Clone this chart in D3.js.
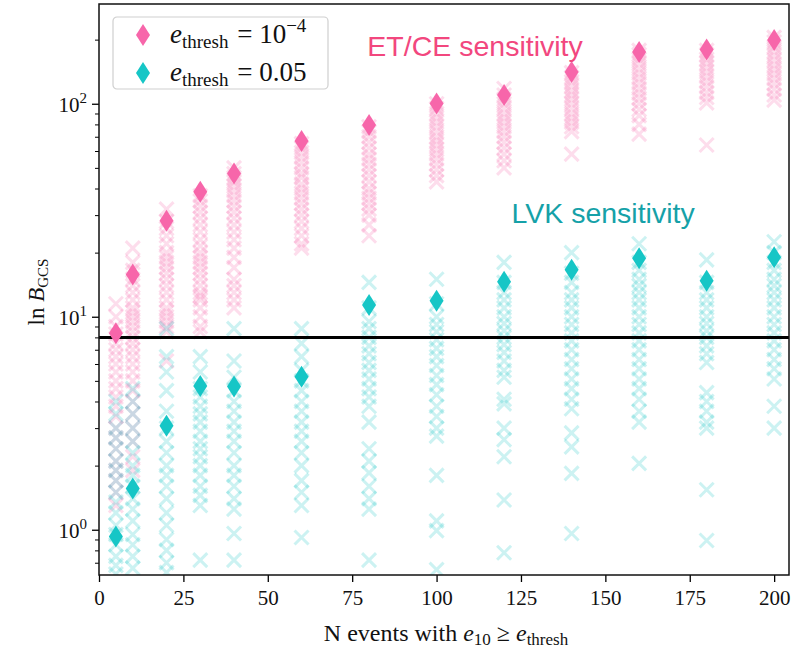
<!DOCTYPE html>
<html>
<head>
<meta charset="utf-8">
<script src="https://cdn.jsdelivr.net/npm/d3@7"></script>
<style>
  body { margin: 0; background: #fff; }
  svg { display: block; }
</style>
</head>
<body>
<div id="chart"></div>
<script>
// N events with e10 >= e_thresh
const nEvents = [5, 10, 20, 30, 40, 60, 80, 100, 120, 140, 160, 180, 200];

// diamonds: ln B_GCS, e_thresh = 1e-4 (ET/CE) and e_thresh = 0.05 (LVK)
const headlineET = [8.36, 15.8, 28.2, 38.6, 47.1, 66.8, 79.4, 100.4, 110, 141, 175, 180, 199];
const headlineLVK = [0.93, 1.56, 3.08, 4.73, 4.7, 5.23, 11.35, 11.9, 14.6, 16.6, 18.8, 14.75, 19.0];

// faint crosses: individual realisations per column
const runsET = [
  [11.5, 10, 9, 8.3, 7.5, 7, 6.5, 6, 5.5, 5, 4.6, 4.2, 3.8, 3.4, 3, 2.7, 2.4, 2.1, 1.9, 1.7, 1.5, 1.3],
  [21, 18, 16.5, 15, 14, 13, 12, 11, 10.5, 10, 9.5, 9, 8.5, 8, 7.5, 7, 6.5, 6, 5.5, 5, 4.5, 4, 3.5, 3, 2.6, 2.2, 1.9],
  [32, 28, 26, 24, 22, 20, 19, 18, 17, 16, 15, 14, 13, 12, 11, 10.5, 10, 9.5, 9, 8.5, 6.2],
  [37, 35, 33, 31, 29, 27, 25, 23, 21.5, 20, 19, 18, 17, 16, 15, 14, 13, 12.5, 12, 11, 10, 9, 8.5],
  [50, 47, 45, 43, 41, 39, 37, 35, 33, 31, 29, 27, 25, 23, 21, 19, 17, 15, 14, 13, 12, 11],
  [65, 62, 59, 56, 53, 50, 47, 45, 42, 40, 38, 36, 34, 32, 30, 28, 26, 24, 22, 21],
  [78, 74, 70, 66, 62, 58, 55, 52, 49, 46, 43, 40, 38, 36, 34, 32, 30, 27, 24],
  [100, 95, 90, 86, 82, 78, 74, 70, 67, 64, 61, 58, 55, 52, 49, 46, 43],
  [118, 110, 105, 100, 95, 90, 86, 82, 78, 74, 70, 66, 62, 58, 54, 50],
  [140, 133, 127, 121, 115, 110, 105, 100, 95, 90, 86, 82, 78, 74, 58],
  [178, 170, 162, 154, 146, 139, 132, 125, 118, 112, 106, 100, 94, 88, 80, 72],
  [178, 170, 162, 155, 148, 141, 134, 127, 120, 113, 107, 101, 64],
  [205, 195, 185, 176, 168, 160, 152, 145, 138, 131, 124, 117, 110, 104]
];
const runsLVK = [
  [4, 3.5, 3, 2.7, 2.4, 2.1, 1.9, 1.7, 1.5, 1.35, 1.2, 1.05, 0.95, 0.85, 0.75, 0.68, 0.62],
  [4.6, 4, 3.5, 3, 2.6, 2.3, 2.0, 1.8, 1.6, 1.4, 1.25, 1.1, 0.95, 0.85, 0.75, 0.66],
  [8.8, 6.5, 5.5, 4.5, 3.6, 3.0, 2.6, 2.3, 2.0, 1.8, 1.6, 1.4, 1.2, 1.05, 0.9, 0.8, 0.7, 0.63],
  [6.5, 5.5, 4.6, 4.2, 3.8, 3.5, 3.2, 2.9, 2.6, 2.4, 2.2, 2.0, 1.8, 1.6, 1.45, 1.3, 0.72],
  [8.8, 6.2, 5.2, 4.5, 4.0, 3.6, 3.2, 2.9, 2.6, 2.3, 2.0, 1.8, 1.6, 1.4, 1.25, 0.96, 0.72],
  [8.8, 7.5, 6.5, 5.6, 5.0, 4.5, 4.0, 3.6, 3.2, 2.9, 2.6, 2.3, 2.0, 1.7, 1.5, 1.3, 0.92],
  [14.5, 11, 9.5, 8.8, 8, 7.3, 6.7, 6.1, 5.6, 5.1, 4.6, 4.2, 3.8, 3.2, 2.4, 2.1, 1.85, 1.6, 1.4, 1.25, 0.72],
  [15, 11.5, 10, 9.2, 8.5, 7.8, 7.1, 6.5, 5.9, 5.3, 4.8, 4.3, 3.8, 3.4, 3.0, 2.75, 1.8, 1.1, 0.99, 0.65],
  [18, 14.5, 13, 12, 11, 10, 9.3, 8.6, 8, 7.4, 6.8, 6.2, 5.6, 5.2, 4.1, 3.9, 3.0, 2.65, 2.2, 1.38, 0.78],
  [20, 16, 14.5, 13, 12, 11, 10, 9.2, 8.4, 7.7, 7, 6.3, 5.7, 5.1, 4.6, 4.1, 3.7, 2.85, 2.45, 1.84, 0.96],
  [22, 18, 16.5, 15, 14, 13, 12, 11, 10, 9.2, 8.4, 7.7, 7, 6.3, 5.7, 5.1, 4.6, 4.1, 3.6, 3.2, 2.05],
  [18.5, 14.5, 13, 12, 11, 10, 9.3, 8.6, 8, 7.3, 6.7, 6.1, 4.4, 4.0, 3.6, 3.2, 3.0, 1.54, 0.89],
  [22.5, 20, 18, 16.5, 15, 14, 13, 12, 11, 10, 9.2, 8.4, 7.7, 7, 6.3, 5.7, 5.1, 3.8, 3.0]
];

const xTicks = [0, 25, 50, 75, 100, 125, 150, 175, 200];
const yMajor = [1, 10, 100];
const threshold = 8;

const pink = "#f766aa";
const teal = "#16c6c6";
const serif = "'Liberation Serif', 'DejaVu Serif', serif";
const sans = "'Liberation Sans', Arial, sans-serif";

const W = 800, H = 653;
const margin = { top: 4, right: 11, bottom: 78, left: 99 };
const width = W - margin.left - margin.right;
const height = H - margin.top - margin.bottom;

const svgRoot = d3.select("#chart").append("svg")
    .attr("width", W)
    .attr("height", H);

const svg = svgRoot.append("g")
    .attr("transform", `translate(${margin.left},${margin.top})`);

const x = d3.scaleLinear().domain([0, 204.4]).range([0, width]);
const y = d3.scaleLog().domain([0.613, 294]).range([height, 0]);

svgRoot.append("defs").append("clipPath").attr("id", "plotclip")
  .append("rect").attr("width", width).attr("height", height);

const plot = svg.append("g").attr("clip-path", "url(#plotclip)");

const crossPath = "M-7,-7L7,7M-7,7L7,-7";
const diamond = "M0,-11L7,0L0,11L-7,0Z";

function drawRuns(runs, color) {
  const pts = [];
  runs.forEach((col, i) => col.forEach(v => pts.push({ n: nEvents[i], v })));
  plot.append("g").selectAll("path")
    .data(pts)
    .enter()
    .append("path")
    .attr("d", crossPath)
    .attr("transform", d => `translate(${x(d.n)},${y(d.v)})`)
    .attr("fill", "none")
    .attr("stroke", color)
    .attr("stroke-width", 3)
    .attr("stroke-opacity", 0.22);
}
drawRuns(runsET, pink);
drawRuns(runsLVK, teal);

plot.append("line")
    .attr("x1", 0).attr("x2", width)
    .attr("y1", y(threshold)).attr("y2", y(threshold))
    .attr("stroke", "#000")
    .attr("stroke-width", 3);

function drawHeadline(vals, color) {
  plot.append("g").selectAll("path")
    .data(vals)
    .enter()
    .append("path")
    .attr("d", diamond)
    .attr("transform", (d, i) => `translate(${x(nEvents[i])},${y(d)})`)
    .attr("fill", color);
}
drawHeadline(headlineET, pink);
drawHeadline(headlineLVK, teal);

// axes
const xAxis = svg.append("g")
    .attr("transform", `translate(0,${height})`)
    .call(d3.axisBottom(x).tickValues(xTicks).tickSize(7).tickPadding(8).tickFormat(d3.format("d")));
xAxis.select(".domain").remove();
xAxis.selectAll("line").attr("stroke-width", 1.3);
xAxis.selectAll("text").style("font-family", serif).style("font-size", "21px").attr("fill", "#111");

const minorVals = [0.7, 0.8, 0.9];
[1, 10, 100].forEach(dec => [2, 3, 4, 5, 6, 7, 8, 9].forEach(m => {
  if (dec * m <= 294) minorVals.push(dec * m);
}));
const minorAxis = svg.append("g")
    .call(d3.axisLeft(y).tickValues(minorVals).tickSize(4).tickFormat(""));
minorAxis.select(".domain").remove();
minorAxis.selectAll("line").attr("stroke-width", 1);

const yAxis = svg.append("g")
    .call(d3.axisLeft(y).tickValues(yMajor).tickSize(7).tickPadding(6).tickFormat(""));
yAxis.select(".domain").remove();
yAxis.selectAll("line").attr("stroke-width", 1.3);
yAxis.selectAll(".tick").each(function(d) {
  const t = d3.select(this).append("text")
      .attr("x", -12).attr("dy", "0.35em")
      .attr("text-anchor", "end")
      .attr("fill", "#111")
      .style("font-family", serif)
      .style("font-size", "21px");
  t.append("tspan").text("10");
  t.append("tspan").attr("dy", "-0.55em").style("font-size", "15px").text(Math.round(Math.log10(d)));
});

// frame
svg.append("rect")
    .attr("width", width).attr("height", height)
    .attr("fill", "none").attr("stroke", "#111").attr("stroke-width", 1.5);

// annotations
svg.append("text")
    .attr("x", x(79.5)).attr("y", 52)
    .attr("fill", "#f2477e")
    .style("font-family", sans)
    .style("font-size", "28.5px")
    .text("ET/CE sensitivity");
svg.append("text")
    .attr("x", x(122.2)).attr("y", 219)
    .attr("fill", "#15a1a8")
    .style("font-family", sans)
    .style("font-size", "28.5px")
    .text("LVK sensitivity");

// legend
const legend = svg.append("g").attr("transform", "translate(14,13)");
legend.append("rect")
    .attr("width", 215).attr("height", 72).attr("rx", 4)
    .attr("fill", "#fff").attr("fill-opacity", 0.85)
    .attr("stroke", "#cfcfcf").attr("stroke-width", 1.2);
const legendItems = [
  { color: pink, rhs: ["10", "\u22124"] },
  { color: teal, rhs: ["0.05", null] }
];
legendItems.forEach((it, i) => {
  const gy = 18 + i * 38;
  legend.append("path")
      .attr("d", diamond)
      .attr("transform", `translate(30,${gy})`)
      .attr("fill", it.color);
  const t = legend.append("text")
      .attr("x", 57).attr("y", gy + 8)
      .attr("fill", "#111")
      .style("font-family", serif)
      .style("font-size", "27px");
  t.append("tspan").style("font-style", "italic").text("e");
  t.append("tspan").attr("dy", 5).style("font-size", "19px").text("thresh");
  t.append("tspan").attr("dy", -5).attr("dx", 2).text(" = " + it.rhs[0]);
  if (it.rhs[1]) {
    t.append("tspan").attr("dy", -11).style("font-size", "19px").text(it.rhs[1]);
  }
});

// axis titles
const xt = svgRoot.append("text")
    .attr("x", margin.left + width / 2 + 2).attr("y", 641)
    .attr("text-anchor", "middle")
    .attr("fill", "#111")
    .style("font-family", serif)
    .style("font-size", "24px");
xt.append("tspan").text("N events with ");
xt.append("tspan").style("font-style", "italic").text("e");
xt.append("tspan").attr("dy", 4).style("font-size", "17px").text("10");
xt.append("tspan").attr("dy", -4).text(" \u2265 ");
xt.append("tspan").style("font-style", "italic").text("e");
xt.append("tspan").attr("dy", 4).style("font-size", "17px").text("thresh");

const yt = svgRoot.append("text")
    .attr("transform", "translate(44,292) rotate(-90)")
    .attr("text-anchor", "middle")
    .attr("fill", "#111")
    .style("font-family", serif)
    .style("font-size", "23px");
yt.append("tspan").text("ln ");
yt.append("tspan").style("font-style", "italic").text("B");
yt.append("tspan").attr("dy", 4).style("font-size", "15px").text("GCS");
</script>
</body>
</html>
